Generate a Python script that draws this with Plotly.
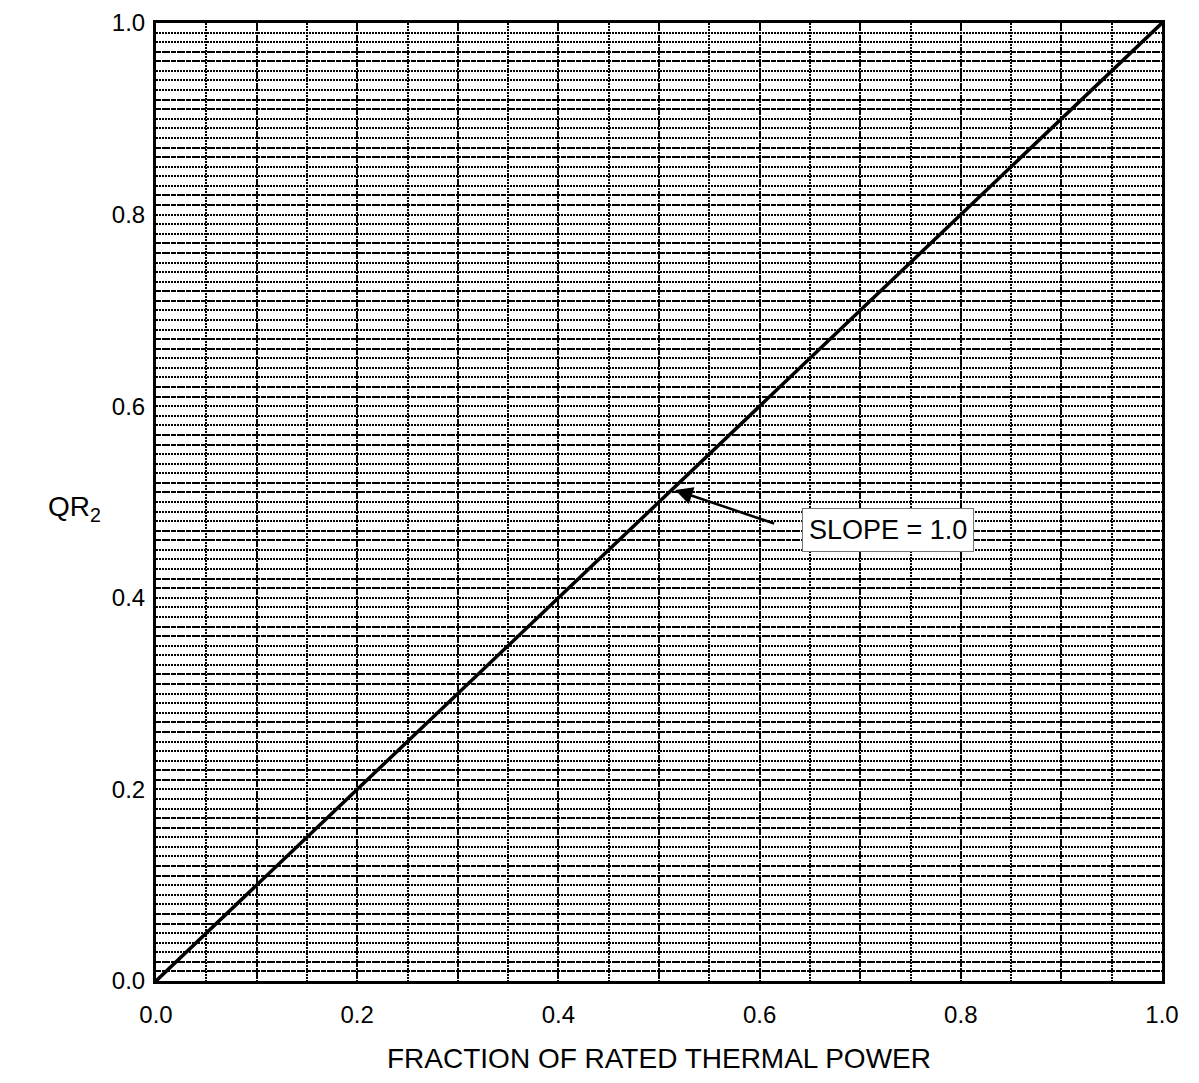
import plotly.graph_objects as go

# Data
power_fraction = [0.0, 0.25, 0.5, 0.75, 1.0]
qr2 = [0.0, 0.25, 0.5, 0.75, 1.0]

tick_vals = [0.0, 0.2, 0.4, 0.6, 0.8, 1.0]
tick_text = ["0.0", "0.2", "0.4", "0.6", "0.8", "1.0"]

x_major_grid = [i / 10 for i in range(11)]
y_dashed_grid = [i / 100 for i in range(101) if i % 5 in (1, 2)]

arrow_tip = (0.516, 0.5125)
arrow_tail = (0.616, 0.477)
label_pos = (0.728, 0.471)
annot_label = "SLOPE = 1.0"

FONT = "Liberation Sans, Arial, Helvetica, sans-serif"

fig = go.Figure()

# invisible trace to realize the overlay grid axes
fig.add_trace(go.Scatter(x=[0, 1], y=[0, 1], xaxis="x2", yaxis="y2",
                         mode="markers", marker=dict(opacity=0),
                         showlegend=False, hoverinfo="skip"))

fig.add_trace(go.Scatter(x=power_fraction, y=qr2, mode="lines",
                         line=dict(color="black", width=3.5),
                         showlegend=False))

fig.update_layout(
    width=1183, height=1067,
    margin=dict(l=148, r=29, t=15, b=94, autoexpand=False),
    paper_bgcolor="white", plot_bgcolor="white",
    font=dict(family=FONT, size=24, color="black"),
    xaxis=dict(range=[0, 1], tickvals=tick_vals, ticktext=tick_text,
               showgrid=False, zeroline=False, showline=True, mirror=True,
               linecolor="black", linewidth=3, ticks="", ticklabelstandoff=10,
               tickfont=dict(size=24), automargin=False),
    yaxis=dict(range=[0, 1], tickvals=tick_vals, ticktext=tick_text,
               showgrid=False, zeroline=False, showline=True, mirror=True,
               linecolor="black", linewidth=3, ticks="", ticklabelstandoff=3,
               tickfont=dict(size=24), automargin=False),
    xaxis2=dict(range=[0, 1], overlaying="x", showticklabels=False,
                tickvals=x_major_grid, showgrid=True, gridcolor="black",
                gridwidth=1.8, griddash="8px,4px", zeroline=False, ticks="",
                automargin=False,
                minor=dict(dtick=0.05, tick0=0, showgrid=True, gridcolor="black",
                           gridwidth=1.5, griddash="1.5px,1.5px")),
    yaxis2=dict(range=[0, 1], overlaying="y", showticklabels=False,
                tickvals=y_dashed_grid, showgrid=True, gridcolor="black",
                gridwidth=2, griddash="5px,2.5px", zeroline=False, ticks="",
                automargin=False,
                minor=dict(dtick=0.01, tick0=0, showgrid=True, gridcolor="black",
                           gridwidth=1.5, griddash="1.5px,1.5px")),
)

# arrow
fig.add_annotation(x=arrow_tip[0], y=arrow_tip[1], xref="x", yref="y",
                   ax=arrow_tail[0], ay=arrow_tail[1], axref="x", ayref="y",
                   text="", showarrow=True, arrowhead=2, arrowsize=1.4,
                   arrowwidth=2.5, arrowcolor="black")

# label box
fig.add_annotation(x=label_pos[0], y=label_pos[1], xref="x", yref="y",
                   text=annot_label, showarrow=False,
                   bgcolor="white", bordercolor="#777", borderwidth=1, borderpad=6,
                   font=dict(size=27, family=FONT, color="black"))

fig.add_annotation(x=-0.109, y=0.493, xref="paper", yref="paper",
                   text="QR<sub>2</sub>", showarrow=False,
                   font=dict(size=28, family=FONT, color="black"))

fig.add_annotation(x=0.5, y=-0.0807, xref="paper", yref="paper",
                   text="FRACTION OF RATED THERMAL POWER", showarrow=False,
                   yanchor="middle",
                   font=dict(size=28, family=FONT, color="black"))

fig.write_html("out.html")
